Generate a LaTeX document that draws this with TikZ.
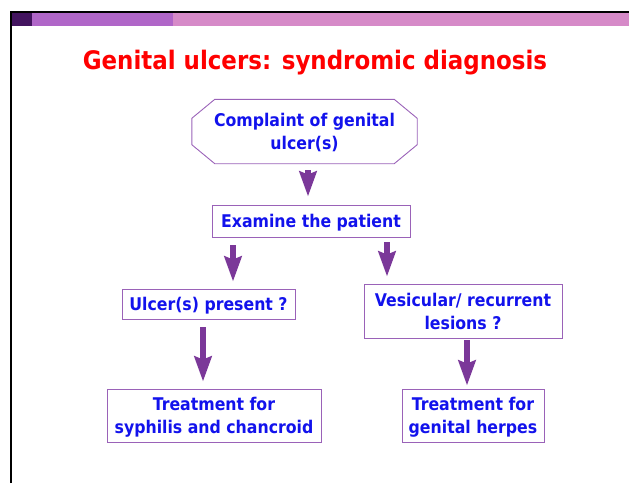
\documentclass[tikz,border=0pt]{standalone}
\usepackage{fontspec}
\setmainfont{DejaVu Sans Condensed}
\usepackage{xcolor}
\usepackage{tikz}
\usetikzlibrary{arrows.meta, positioning}

\definecolor{bardark}{HTML}{43145F}
\definecolor{barmid}{HTML}{B066C8}
\definecolor{barlight}{HTML}{D68AC8}
\definecolor{titlered}{HTML}{FF0000}
\definecolor{textblue}{HTML}{1212EC}
\definecolor{boxline}{HTML}{9A62B8}
\definecolor{arrowpurple}{HTML}{7B3899}

\begin{document}
\begin{tikzpicture}[
x=1pt, y=-1pt,
every node/.style={align=center, font=\fontsize{17.5}{23}\selectfont\bfseries, text=textblue, inner sep=0pt, text depth=0pt},
stepbox/.style={draw=boxline, line width=0.9pt, rectangle},
octline/.style={draw=boxline, line width=0.9pt},
bigarrow/.style={draw=arrowpurple, line width=5.5pt, -{Stealth[length=25pt, width=17pt, inset=3pt]}}
]

% page and header bar
\useasboundingbox (0,0) rectangle (629,483);
\fill[bardark] (10,13) rectangle (32,26);
\fill[barmid] (32,13) rectangle (173,26);
\fill[barlight] (173,13) rectangle (629,26);
\draw[line width=2pt] (11,483) -- (11,12) -- (629,12);

\node[font=\fontsize{25.5}{30}\selectfont\bfseries, text=titlered] (title) at (315,60) {Genital ulcers: syndromic diagnosis};

\node[minimum width=225pt, minimum height=64pt] (compl) at (304.5,131.5) {Complaint of genital\\ulcer(s)};
\draw[octline] ([shift={(23,0)}]compl.north west) -- ([shift={(-23,0)}]compl.north east)
  -- ([shift={(0,19)}]compl.north east) -- ([shift={(0,-19)}]compl.south east)
  -- ([shift={(-23,0)}]compl.south east) -- ([shift={(23,0)}]compl.south west)
  -- ([shift={(0,-19)}]compl.south west) -- ([shift={(0,19)}]compl.north west) -- cycle;
\node[stepbox, minimum width=198pt, minimum height=32pt] (exam) at (311,221) {Examine the patient};
\node[stepbox, minimum width=173pt, minimum height=30pt] (ulcer) at (208.5,304) {Ulcer(s) present ?};
\node[stepbox, minimum width=198pt, minimum height=54pt] (vesic) at (463,311) {Vesicular/ recurrent\\lesions ?};
\node[stepbox, minimum width=214pt, minimum height=53pt] (treatsc) at (214,415.5) {Treatment for\\syphilis and chancroid};
\node[stepbox, minimum width=142pt, minimum height=53pt] (treatgh) at (473,415.5) {Treatment for\\genital herpes};

\draw[bigarrow] ([shift={(3.5,6.5)}]compl.south) -- ([shift={(-3,-8)}]exam.north);
\draw[bigarrow] ([shift={(-78,8)}]exam.south) -- ([shift={(24.5,-7)}]ulcer.north);
\draw[bigarrow] ([shift={(76,5)}]exam.south) -- ([shift={(-76,-7)}]vesic.north);
\draw[bigarrow] ([shift={(-5.5,8)}]ulcer.south) -- ([shift={(-11,-7)}]treatsc.north);
\draw[bigarrow] ([shift={(4,2)}]vesic.south) -- ([shift={(-6,-3)}]treatgh.north);

\end{tikzpicture}
\end{document}
